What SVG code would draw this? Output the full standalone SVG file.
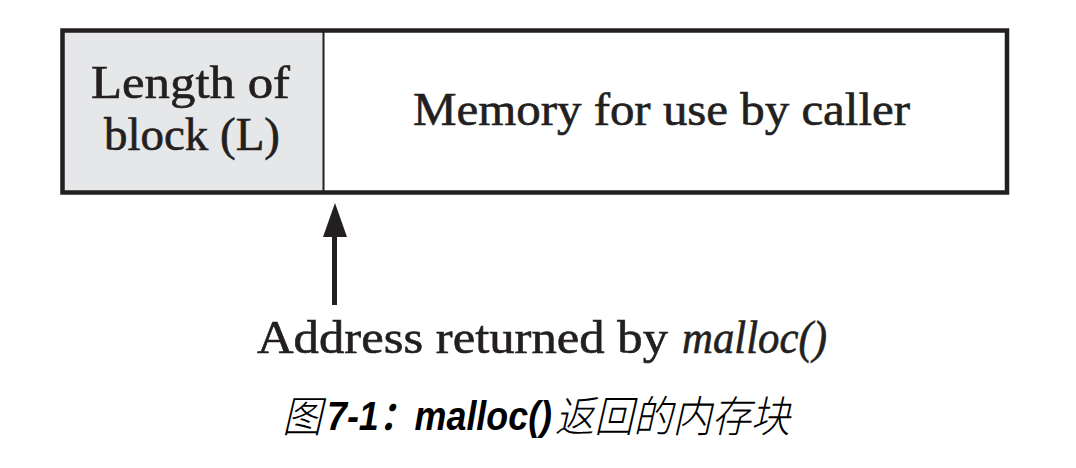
<svg xmlns="http://www.w3.org/2000/svg" width="1076" height="468" viewBox="0 0 1076 468">
<style>
.serif{font-family:"Liberation Serif","DejaVu Serif",serif;fill:#231f20;stroke:#231f20;stroke-width:0.6px;font-size:46px}
.it{font-style:italic}
.cap{font-family:"Liberation Sans","Noto Sans CJK SC",sans-serif;fill:#000;font-size:40px;font-style:italic}
.cjk{font-family:"Noto Sans CJK SC",sans-serif;font-weight:300;font-size:43px}
</style>
<rect width="1076" height="468" fill="#fff"/>
<g id="node-length">
<rect x="62.5" y="30.5" width="261" height="162" fill="#e6e7e8"/>
<text class="serif" x="91" y="98" textLength="199" lengthAdjust="spacingAndGlyphs">Length of</text>
<text class="serif" x="104" y="150" textLength="176" lengthAdjust="spacingAndGlyphs">block (L)</text>
</g>
<g id="node-memory">
<text class="serif" x="413" y="125" textLength="497" lengthAdjust="spacingAndGlyphs">Memory for use by caller</text>
</g>
<g id="frame" fill="none" stroke="#231f20">
<rect x="62.5" y="30.5" width="944.5" height="162" stroke-width="4.5"/>
<line x1="323.5" y1="31" x2="323.5" y2="192" stroke-width="2"/>
</g>
<g id="connectors">
<line x1="334.5" y1="305" x2="334.5" y2="232" stroke="#231f20" stroke-width="5"/>
<polygon points="335,203 323,237 347,237" fill="#231f20"/>
</g>
<g id="label-address">
<text class="serif" x="257" y="353" textLength="411" lengthAdjust="spacingAndGlyphs">Address returned by</text>
<text class="serif it" x="682" y="353" textLength="145" lengthAdjust="spacingAndGlyphs">malloc()</text>
</g>
<g id="caption">
<text class="cap cjk" x="282" y="432" textLength="40" lengthAdjust="spacingAndGlyphs">图</text>
<text class="cap" x="327" y="430" font-weight="bold" textLength="225" lengthAdjust="spacingAndGlyphs">7-1：malloc()</text>
<text class="cap cjk" x="555" y="432" textLength="235" lengthAdjust="spacingAndGlyphs">返回的内存块</text>
</g>
</svg>
